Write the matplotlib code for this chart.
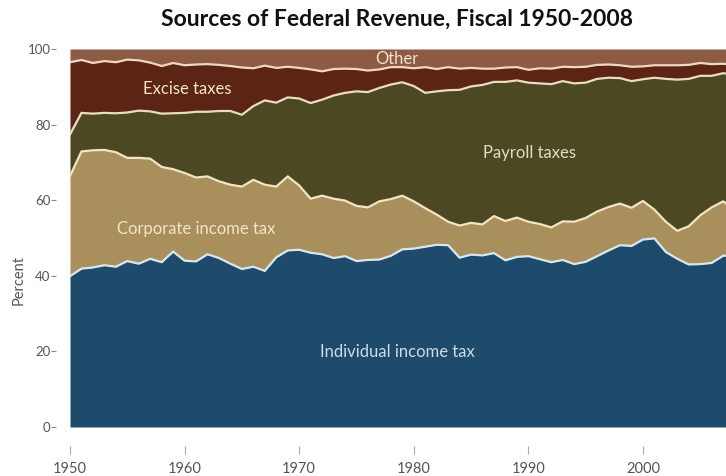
import matplotlib
matplotlib.use("Agg")
import matplotlib.pyplot as plt
import numpy as np

plt.rcParams['font.family'] = ['Lato', 'DejaVu Sans']

years = list(range(1950, 2009))

# Percent of total federal receipts by source
individual = [39.9, 41.9, 42.2, 42.8, 42.4, 43.9, 43.2, 44.5, 43.6, 46.4,
              44.0, 43.8, 45.7, 44.7, 43.2, 41.8, 42.4, 41.3, 44.9, 46.7,
              46.9, 46.1, 45.7, 44.7, 45.2, 43.9, 44.2, 44.3, 45.3, 47.0,
              47.2, 47.7, 48.2, 48.1, 44.8, 45.6, 45.4, 46.0, 44.1, 45.0,
              45.2, 44.4, 43.6, 44.2, 43.1, 43.7, 45.2, 46.7, 48.1, 47.9,
              49.6, 49.9, 46.3, 44.5, 43.0, 43.1, 43.4, 45.3, 45.4]
corporate = [26.5, 31.0, 31.0, 30.5, 30.3, 27.3, 28.0, 26.5, 25.2, 21.8,
             23.2, 22.2, 20.6, 20.3, 20.9, 21.8, 23.0, 22.8, 18.7, 19.6,
             17.0, 14.3, 15.5, 15.7, 14.7, 14.6, 13.9, 15.4, 15.0, 14.2,
             12.5, 10.2, 8.0, 6.2, 8.5, 8.4, 8.2, 9.8, 10.4, 10.4,
             9.1, 9.3, 9.2, 10.2, 11.2, 11.6, 11.8, 11.5, 11.0, 10.1,
             10.2, 7.6, 8.0, 7.4, 10.1, 12.9, 14.7, 14.4, 12.1]
payroll = [11.0, 10.2, 9.7, 9.8, 10.3, 12.0, 12.5, 12.5, 14.1, 14.8,
           15.9, 17.4, 17.1, 18.6, 19.5, 19.0, 19.5, 22.3, 22.2, 20.9,
           23.0, 25.3, 25.4, 27.3, 28.5, 30.3, 30.5, 30.0, 30.3, 30.0,
           30.5, 30.5, 32.6, 34.8, 35.9, 36.1, 36.9, 35.5, 36.8, 36.3,
           36.8, 37.2, 37.9, 37.1, 36.6, 35.8, 35.1, 34.2, 33.2, 33.5,
           32.2, 34.9, 37.8, 40.0, 39.0, 36.9, 34.8, 33.9, 35.7]
excise = [19.1, 14.0, 13.4, 13.7, 13.5, 14.0, 13.3, 12.9, 12.6, 13.3,
          12.6, 12.5, 12.6, 12.2, 11.9, 12.5, 10.0, 9.2, 9.2, 8.1,
          8.1, 8.9, 7.5, 7.0, 6.4, 5.9, 5.7, 4.9, 4.6, 4.0,
          4.7, 6.8, 5.9, 6.1, 5.6, 4.9, 4.3, 3.5, 3.8, 3.5,
          3.4, 4.0, 4.1, 3.8, 4.3, 4.2, 3.7, 3.5, 3.4, 3.8,
          3.4, 3.3, 3.6, 3.8, 3.7, 3.4, 3.1, 2.5, 2.6]

series = [individual, corporate, payroll, excise]
names = ["Individual income tax", "Corporate income tax", "Payroll taxes",
         "Excise taxes", "Other"]
colors = ["#1e4a6c", "#a88f5c", "#4c4922", "#5c2414", "#8d5a46"]
edge_colors = ["#d8e6ee", "#f2e4c4", "#e9dcc0", "#f0d8c0"]

x = np.array(years, dtype=float)
tops = np.cumsum(np.array(series), axis=0)

fig = plt.figure(figsize=(7.26, 4.76), dpi=100)
ax = fig.add_axes([70 / 726, 49 / 476, 656 / 726, 378 / 476])

bottom = np.zeros_like(x)
for i, top in enumerate(tops):
    ax.fill_between(x, bottom, top, color=colors[i], linewidth=0, zorder=1)
    bottom = top
ax.fill_between(x, bottom, 100, color=colors[4], linewidth=0, zorder=1)
for i, top in enumerate(tops):
    ax.plot(x, top, color=edge_colors[i], linewidth=1.6, zorder=3,
            solid_joinstyle='round')

cream = "#f2e5c8"
ax.text(1978.5, 97.3, "Other", color=cream, fontsize=12,
        ha="center", va="center", zorder=4)
ax.text(1960.2, 89.3, "Excise taxes", color=cream, fontsize=12,
        ha="center", va="center", zorder=4)
ax.text(1990.1, 72.6, "Payroll taxes", color="#dedcc8", fontsize=12,
        ha="center", va="center", zorder=4)
ax.text(1961.0, 52.4, "Corporate income tax", color=cream, fontsize=12,
        ha="center", va="center", zorder=4)
ax.text(1978.6, 19.8, "Individual income tax", color="#cddbe6", fontsize=12,
        ha="center", va="center", zorder=4)

ax.set_xlim(1950, 2007.25)
ax.set_ylim(0, 100)

for side in ["top", "right", "left", "bottom"]:
    ax.spines[side].set_visible(False)
ax.spines["left"].set_position(("outward", 10))
ax.spines["bottom"].set_position(("outward", 14))

ax.set_yticks([0, 20, 40, 60, 80, 100])
ax.set_xticks([1950, 1960, 1970, 1980, 1990, 2000])
ax.tick_params(axis="y", direction="out", length=3.5, width=0.8, color="#888888",
               labelcolor="#555555", labelsize=9.5, pad=0.5)
ax.tick_params(axis="x", direction="out", length=6, width=0.8, color="#aaaaaa",
               labelcolor="#555555", labelsize=10.5, pad=5)

ax.set_ylabel("Percent", color="#555555", fontsize=10.5)
ax.yaxis.set_label_coords(-0.067, 0.39)

fig.text(397 / 726, 1 - 19 / 476, "Sources of Federal Revenue, Fiscal 1950-2008",
         ha="center", va="center", fontsize=16.5, fontweight="bold", color="#111111")

fig.savefig("out.png", dpi=100)
